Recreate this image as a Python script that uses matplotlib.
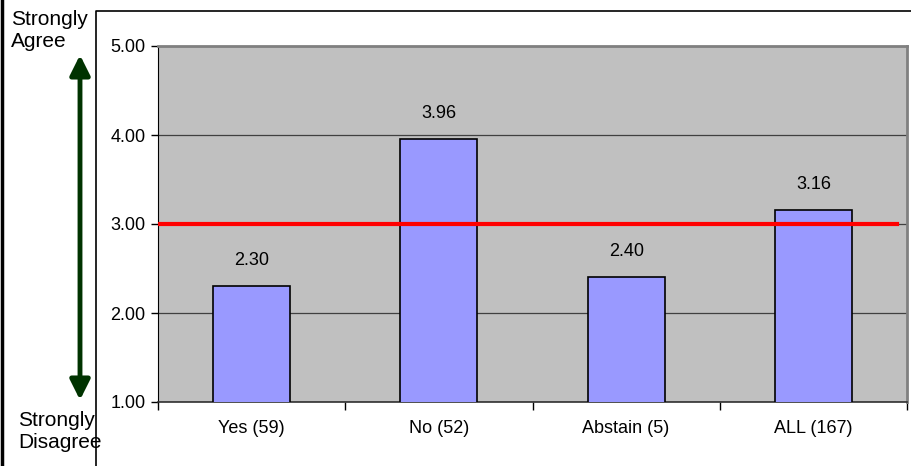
import matplotlib.pyplot as plt
from matplotlib.lines import Line2D
from matplotlib.patches import FancyArrowPatch
import numpy as np

plt.rcParams["font.family"] = ["Liberation Sans", "DejaVu Sans"]

# data
categories = ["Yes (59)", "No (52)", "Abstain (5)", "ALL (167)"]
means = [2.30, 3.96, 2.40, 3.16]
NEUTRAL = 3.0
y_ticks = [1.0, 2.0, 3.0, 4.0, 5.0]

W, H = 911, 466
fig = plt.figure(figsize=(W / 100, H / 100), dpi=100)

# outer frame lines (left border and the chart box)
fig.add_artist(Line2D([1.5 / W, 1.5 / W], [0, 1], color="black", lw=2.5,
                      transform=fig.transFigure))
fig.add_artist(Line2D([96 / W, 96 / W, 1], [0, 1 - 11 / H, 1 - 11 / H], color="black",
                      lw=1.2, transform=fig.transFigure))

ax = fig.add_axes([158 / W, 1 - 402 / H, (907 - 158) / W, (402 - 46) / H])
ax.set_facecolor("#c0c0c0")

x = np.arange(len(categories))
ax.bar(x, means, bottom=0, width=0.41, color="#9999ff", edgecolor="black",
       linewidth=1.2, zorder=3)
for xi, v in zip(x, means):
    ax.text(xi, v + 0.19, f"{v:.2f}", ha="center", va="bottom", fontsize=13, zorder=4)

ax.axhline(NEUTRAL, xmin=0, xmax=0.987, color="#ff0000", lw=3, zorder=5)

ax.set_xlim(-0.5, len(categories) - 0.5)
ax.set_ylim(1, 5)
ax.set_yticks(y_ticks)
ax.set_yticklabels([f"{t:.2f}" for t in y_ticks], fontsize=13)
ax.yaxis.grid(True, color="#404040", lw=0.9, zorder=1)
ax.set_axisbelow(True)

ax.set_xticks(x)
ax.set_xticklabels(categories, fontsize=13)
ax.tick_params(axis="x", length=0, pad=13)
ax.set_xticks(np.arange(len(categories) + 1) - 0.5, minor=True)
ax.tick_params(axis="x", which="minor", length=6, width=1, direction="out")
ax.tick_params(axis="y", length=5, width=1, direction="out", pad=4)

for s in ["top", "right"]:
    ax.spines[s].set_color("#808080")
    ax.spines[s].set_linewidth(2)
ax.spines["left"].set_color("black")
ax.spines["bottom"].set_color("#303030")
ax.spines["bottom"].set_linewidth(1.2)

# agree/disagree scale arrow
fig.add_artist(FancyArrowPatch(
    (80 / W, 1 - 400 / H), (80 / W, 1 - 55 / H), transform=fig.transFigure,
    arrowstyle="<|-|>,head_length=12,head_width=6", color="#003300", lw=3.5,
    mutation_scale=1, shrinkA=0, shrinkB=0))
fig.text(11 / W, 1 - 10 / H, "Strongly\nAgree", ha="left", va="top", fontsize=15,
         linespacing=1.2)
fig.text(18 / W, 1 - 411 / H, "Strongly\nDisagree", ha="left", va="top", fontsize=15,
         linespacing=1.2)

fig.savefig("out.png", facecolor="white")
